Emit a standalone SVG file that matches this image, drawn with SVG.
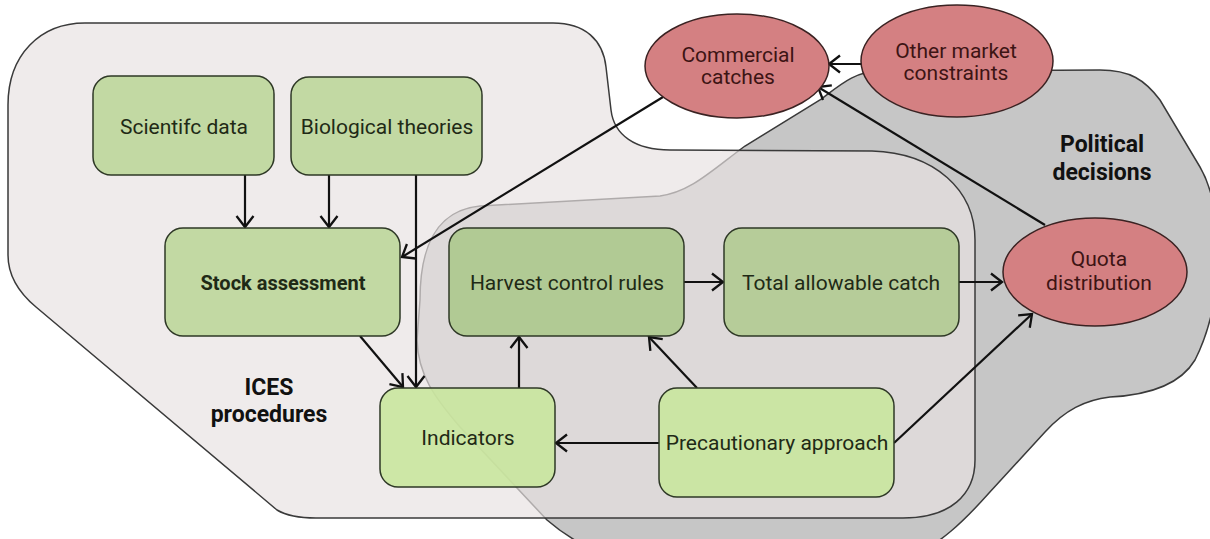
<svg xmlns="http://www.w3.org/2000/svg" width="1210" height="539" viewBox="0 0 1210 539">
<defs>
<style>
.box{stroke:#2e3826;stroke-width:1.5;fill-opacity:0.88}
.ell{fill:#d48082;stroke:#3a2222;stroke-width:1.5}
.t{font-family:Roboto,"Liberation Sans",sans-serif;font-size:21px;fill:#1f2a16;text-anchor:middle}
.tb{font-weight:bold}
.te{font-family:Roboto,"Liberation Sans",sans-serif;font-size:21px;fill:#3d1414;text-anchor:middle}
.lbl{font-family:Roboto,"Liberation Sans",sans-serif;font-size:23px;font-weight:bold;fill:#111;text-anchor:middle}
.c{fill:none;stroke:#111;stroke-width:2.2}
</style>
<marker id="ah" markerUnits="userSpaceOnUse" markerWidth="15" markerHeight="20" refX="12" refY="10" orient="auto">
<path d="M1,1.5 L12,10 L1,18.5" fill="none" stroke="#111" stroke-width="2.3"/>
</marker>
</defs>
<rect width="1210" height="539" fill="#ffffff"/>
<g id="region-political">
<path d="M420,300 C420,240 440,210 480,206 L660,196 C690,192 710,172 745,146 L820,100 C840,85 855,71 880,71 L1100,70 C1130,70 1145,80 1160,100 L1200,167 C1225,210 1225,300 1195,360 C1180,385 1150,395 1110,397 C1085,400 1065,410 1045,432 L989,493 C965,520 940,545 905,560 L620,560 C600,555 570,540 547,520 L460,427 C435,398 418,375 417,340 Z" fill="#c6c6c6" stroke="#3a3a3a" stroke-width="1.5"/>
</g>
<g id="region-ices">
<path d="M85,23 L553,23 C585,23 603,40 606,67 L611,110 C614,135 635,150 670,150 L872,151 C935,153 975,190 975,240 L975,460 C975,495 950,518 903,518 L316,518 C300,518 287,516 277,510 L36,307 C18,292 8,275 8,255 L8,105 C8,55 40,23 85,23 Z" fill="#e8e2e2" fill-opacity="0.68" stroke="#3a3a3a" stroke-width="1.5"/>
</g>
<text class="lbl" x="269" y="395">ICES</text>
<text class="lbl" x="269" y="422">procedures</text>
<text class="lbl" x="1102" y="152">Political</text>
<text class="lbl" x="1102" y="180">decisions</text>
<g id="connectors">
<line class="c" x1="245" y1="175" x2="245" y2="227" marker-end="url(#ah)"/>
<line class="c" x1="329" y1="175" x2="329" y2="227" marker-end="url(#ah)"/>
<line class="c" x1="416" y1="175" x2="416" y2="387" marker-end="url(#ah)"/>
<line class="c" x1="360" y1="336" x2="403" y2="387" marker-end="url(#ah)"/>
<line class="c" x1="663" y1="97" x2="402" y2="257" marker-end="url(#ah)"/>
<line class="c" x1="519" y1="388" x2="519" y2="337" marker-end="url(#ah)"/>
<line class="c" x1="697" y1="388" x2="649" y2="337" marker-end="url(#ah)"/>
<line class="c" x1="659" y1="443" x2="556" y2="443" marker-end="url(#ah)"/>
<line class="c" x1="684" y1="282" x2="723" y2="282" marker-end="url(#ah)"/>
<line class="c" x1="959" y1="282" x2="1002" y2="282" marker-end="url(#ah)"/>
<line class="c" x1="894" y1="443" x2="1032" y2="314" marker-end="url(#ah)"/>
<line class="c" x1="1045" y1="225" x2="818" y2="87" marker-end="url(#ah)"/>
<line class="c" x1="862" y1="64" x2="829" y2="64" marker-end="url(#ah)"/>
</g>
<g id="node-scientific-data">
<rect class="box" x="93" y="76" width="181" height="99" rx="18" fill="#bcd699"/>
<text class="t" x="184" y="134">Scientifc data</text>
</g>
<g id="node-biological-theories">
<rect class="box" x="291" y="77" width="191" height="98" rx="18" fill="#bcd699"/>
<text class="t" x="387" y="134">Biological theories</text>
</g>
<g id="node-stock-assessment">
<rect class="box" x="165" y="228" width="235" height="108" rx="18" fill="#bcd699"/>
<text class="t tb" x="283" y="290" style="font-size:20px">Stock assessment</text>
</g>
<g id="node-harvest-control-rules">
<rect class="box" x="449" y="228" width="235" height="108" rx="18" fill="#abc78a"/>
<text class="t" x="567" y="290">Harvest control rules</text>
</g>
<g id="node-total-allowable-catch">
<rect class="box" x="724" y="228" width="235" height="108" rx="18" fill="#b0ca8f"/>
<text class="t" x="841" y="290">Total allowable catch</text>
</g>
<g id="node-indicators">
<rect class="box" x="380" y="388" width="175" height="99" rx="18" fill="#c8e69c"/>
<text class="t" x="468" y="445">Indicators</text>
</g>
<g id="node-precautionary-approach">
<rect class="box" x="659" y="388" width="235" height="109" rx="18" fill="#c8e69c"/>
<text class="t" x="777" y="450">Precautionary approach</text>
</g>
<g id="node-commercial-catches">
<ellipse class="ell" cx="737" cy="66" rx="92" ry="52"/>
<text class="te" x="738" y="62">Commercial</text>
<text class="te" x="738" y="84">catches</text>
</g>
<g id="node-other-market-constraints">
<ellipse class="ell" cx="957" cy="61" rx="96" ry="56"/>
<text class="te" x="956" y="58">Other market</text>
<text class="te" x="956" y="80">constraints</text>
</g>
<g id="node-quota-distribution">
<ellipse class="ell" cx="1095" cy="272" rx="92" ry="54"/>
<text class="te" x="1099" y="266">Quota</text>
<text class="te" x="1099" y="290">distribution</text>
</g>
</svg>
